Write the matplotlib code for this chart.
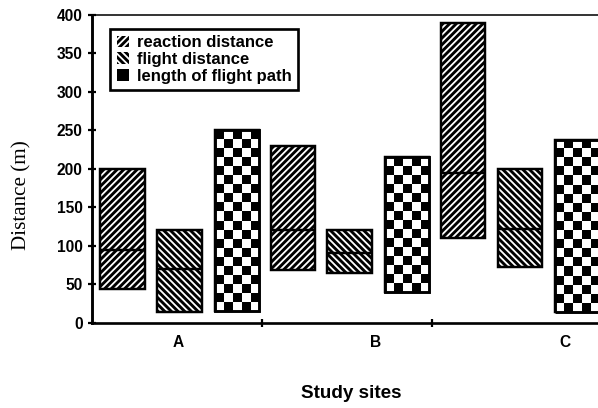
import numpy as np
import matplotlib
matplotlib.use('Agg')
import matplotlib.pyplot as plt
from matplotlib.patches import Patch

plt.rcParams['font.family'] = ['Liberation Sans', 'DejaVu Sans']
plt.rcParams['hatch.linewidth'] = 2.6

# data: floating ranges (min, median, max) in metres
sites = ['A', 'B', 'C']
reaction_min = [44, 68, 110]
reaction_med = [95, 120, 195]
reaction_max = [200, 230, 390]
flight_min = [14, 64, 73]
flight_med = [70, 90, 122]
flight_max = [120, 120, 200]
path_min = [15, 40, 14]
path_max = [250, 215, 238]

series_labels = ['reaction distance', 'flight distance', 'length of flight path']
yticks = [0, 50, 100, 150, 200, 250, 300, 350, 400]

DPI = 80
fig = plt.figure(figsize=(598 / DPI, 408 / DPI), dpi=DPI)
ax = fig.add_axes([0.1538, 0.2091, 0.8462, 0.7542])

offsets = [0.18, 0.515, 0.853]
w = 0.26
g = np.arange(len(sites))

# reaction distance bars
xr = g + offsets[0]
ax.bar(xr, np.subtract(reaction_max, reaction_min), bottom=reaction_min, width=w,
       facecolor='white', edgecolor='black', hatch='////', linewidth=2.2, zorder=2)
ax.hlines(reaction_med, xr - w / 2, xr + w / 2, color='black', lw=2.2, zorder=3)

# flight distance bars
xf = g + offsets[1]
ax.bar(xf, np.subtract(flight_max, flight_min), bottom=flight_min, width=w,
       facecolor='white', edgecolor='black', hatch='\\\\\\\\', linewidth=2.2, zorder=2)
ax.hlines(flight_med, xf - w / 2, xf + w / 2, color='black', lw=2.2, zorder=3)

# flight path bars with a checkerboard fill
xp = g + offsets[2]
bars = ax.bar(xp, np.subtract(path_max, path_min), bottom=path_min, width=w,
              facecolor='white', edgecolor='black', linewidth=2.2, zorder=2)
for b, x0, lo, hi in zip(bars, xp, path_min, path_max):
    nx = 5
    ny = int(round((hi - lo) / 11.5))
    checker = (np.add.outer(np.arange(ny), np.arange(nx)) % 2 == 0).astype(float)
    im = ax.imshow(checker, cmap='gray', vmin=0, vmax=1, interpolation='nearest',
                   extent=[x0 - w / 2, x0 + w / 2, lo, hi], origin='lower',
                   aspect='auto', zorder=2.5)
    im.set_clip_path(b)
    ax.bar(x0, hi - lo, bottom=lo, width=w, facecolor='none', edgecolor='black',
           linewidth=2.6, zorder=3)

ax.set_xlim(0, 2.976)
ax.set_ylim(0, 400)

# axes styling
ax.spines['right'].set_visible(False)
ax.spines['left'].set_linewidth(2.6)
ax.spines['bottom'].set_linewidth(2.4)
ax.spines['top'].set_linewidth(1.4)

ax.set_yticks(yticks)
ax.set_yticklabels([str(v) for v in yticks], fontweight='bold', fontsize=14)
ax.tick_params(axis='y', direction='inout', length=7, width=2, pad=5)

ax.set_xticks([1, 2])
ax.set_xticklabels(['', ''])
ax.tick_params(axis='x', which='major', direction='inout', length=8, width=2)
ax.set_xticks([0.506, 1.67, 2.78], minor=True)
ax.set_xticklabels(sites, minor=True, fontweight='bold', fontsize=14)
ax.tick_params(axis='x', which='minor', length=0, pad=11)

fig.text(22 / 598, 1 - 195 / 408, 'Distance (m)', rotation=90, ha='center', va='center',
         family='Liberation Serif', fontsize=19)
fig.text(351 / 598, 1 - 393 / 408, 'Study sites', ha='center', va='center',
         fontweight='bold', fontsize=17)

handles = [
    Patch(facecolor='white', edgecolor='black', hatch='////', linewidth=0),
    Patch(facecolor='white', edgecolor='black', hatch='\\\\\\\\', linewidth=0),
    Patch(facecolor='black', edgecolor='black', linewidth=0),
]
leg = ax.legend(handles, series_labels, loc='upper left', bbox_to_anchor=(0.036, 0.955),
                borderaxespad=0, fancybox=False, framealpha=1, edgecolor='black',
                prop={'weight': 'bold', 'size': 15}, handlelength=0.7, handleheight=0.7,
                handletextpad=0.5, labelspacing=0.1, borderpad=0.4)
leg.get_frame().set_linewidth(2.4)

fig.savefig('out.png', dpi=DPI)
